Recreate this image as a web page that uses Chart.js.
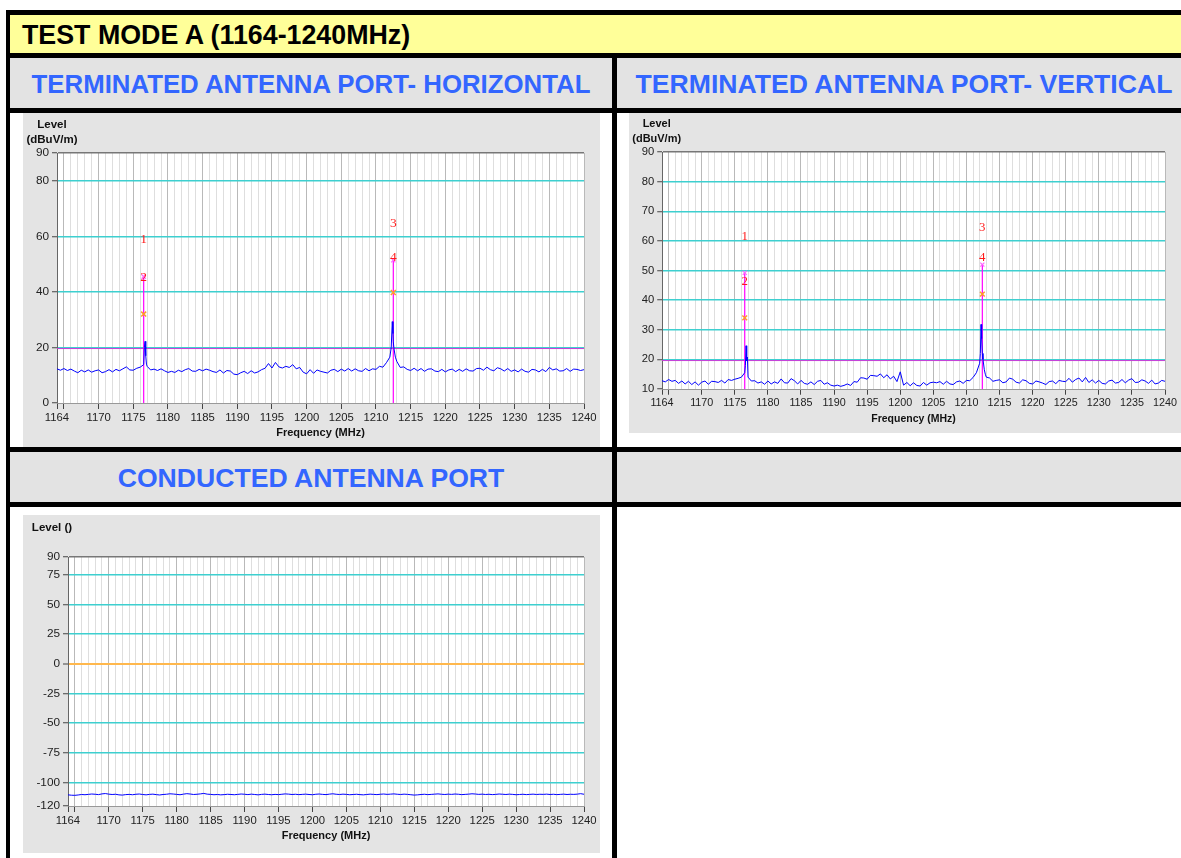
<!DOCTYPE html>
<html><head><meta charset="utf-8">
<script src="https://cdn.jsdelivr.net/npm/chart.js@4.4.0/dist/chart.umd.min.js"></script>
<style>
html,body{margin:0;padding:0;background:#fff;overflow:hidden;}
#page{position:relative;width:1181px;height:858px;overflow:hidden;font-family:Arial,"Liberation Sans",sans-serif;}
.blk{position:absolute;background:#000;}
.cell{position:absolute;display:flex;align-items:center;box-sizing:border-box;}
.yellow{background:#ffff99;color:#000;font-weight:bold;font-size:26.8px;padding-left:12px;padding-top:3px;}
.grey{background:#e3e3e3;color:#3366ff;font-weight:bold;font-size:26px;justify-content:center;padding-top:2px;}
canvas{position:absolute;}
</style>
</head><body>
<div id="page">
  <div class="cell yellow" style="left:10px;top:15px;width:1185px;height:38px;">TEST MODE A (1164-1240MHz)</div>
  <div class="cell grey" style="left:10px;top:58px;width:602px;height:50px;font-size:25.8px;">TERMINATED ANTENNA PORT- HORIZONTAL</div>
  <div class="cell grey" style="left:617px;top:58px;width:574px;height:50px;font-size:26.6px;">TERMINATED ANTENNA PORT- VERTICAL</div>
  <div class="cell grey" style="left:10px;top:452px;width:602px;height:50px;font-size:26.6px;">CONDUCTED ANTENNA PORT</div>
  <div class="cell grey" style="left:617px;top:452px;width:574px;height:50px;"></div>

  <div class="blk" style="left:6px;top:10px;width:1190px;height:5px;"></div>
  <div class="blk" style="left:6px;top:53px;width:1190px;height:5px;"></div>
  <div class="blk" style="left:6px;top:108px;width:1190px;height:5px;"></div>
  <div class="blk" style="left:6px;top:447px;width:1190px;height:5px;"></div>
  <div class="blk" style="left:6px;top:502px;width:1190px;height:5px;"></div>
  <div class="blk" style="left:6px;top:10px;width:4px;height:860px;"></div>
  <div class="blk" style="left:612px;top:53px;width:5px;height:810px;"></div>

  <canvas id="cH" width="577" height="334" style="left:23px;top:113px;"></canvas>
  <canvas id="cV" width="552" height="320" style="left:629px;top:113px;"></canvas>
  <canvas id="cC" width="577" height="338" style="left:23px;top:515px;"></canvas>
</div>
<script>
// ---------- data ----------
const FREQ_START = 1164, FREQ_END = 1240, FREQ_STEP = 0.5;
const xTickLabels = [1164,1170,1175,1180,1185,1190,1195,1200,1205,1210,1215,1220,1225,1230,1235,1240];
const xTickMarks  = [1164,1165,1170,1175,1180,1185,1190,1195,1200,1205,1210,1215,1220,1225,1230,1235,1240];
const xAxisTitle = 'Frequency (MHz)';

// Horizontal (terminated antenna port), one value every 0.5 MHz from 1164
const hTrace = [
 12.3,11.8, 12.4,11.7, 12.2,11.5, 10.9,11.8, 11.2,11.9,
 11.1,11.6, 11.9,10.9, 11.3,12.0, 11.2,12.1, 11.6,12.3,
 13.0,11.9, 11.8,12.5, 12.9,13.8, 13.2,11.9, 12.2,11.7,
 12.3,11.6, 11.0,11.4, 11.0,11.8, 11.3,12.0, 12.4,11.5,
 11.4,12.1, 11.6,12.2, 11.8,11.3, 11.0,11.9, 10.8,11.7,
 11.5,10.4, 10.2,10.9, 11.4,10.6, 11.6,10.8, 11.2,12.0,
 12.5,14.2, 12.6,14.6, 13.0,12.6, 13.2,12.8, 13.8,12.3,
 12.8,11.1, 10.5,12.0, 10.7,11.9, 11.4,11.1, 10.8,11.8,
 12.1,11.3, 12.2,11.5, 12.4,11.5, 12.3,11.6, 11.4,12.4,
 11.6,12.3, 12.1,13.2, 12.9,14.5, 16.5,22.0, 15.0,12.8,
 13.0,12.1, 11.7,12.5, 11.6,12.4, 11.4,12.2, 12.3,11.5,
 11.3,12.1, 11.2,11.9, 12.2,11.3, 12.1,11.4, 12.3,11.6,
 11.5,12.4, 12.5,11.8, 12.9,12.0, 11.6,12.7, 12.3,11.5,
 12.4,11.4, 11.9,11.2, 12.2,11.4, 11.1,12.1, 11.9,11.2,
 12.1,11.3, 12.8,11.9, 12.3,11.5, 11.6,12.4, 11.4,12.2,
 12.1,11.7, 12.0
];
const hPeakFreqs = [1176.6,1176.7,1176.8,1176.9, 1212.2,1212.35,1212.45,1212.6,1212.8];
const hPeakVals  = [20.0, 22.2, 17.0, 14.0, 20.0, 29.3, 25.0, 19.5, 16.5];
const hYTicks = [0,20,40,60,80,90];
const hLimit = 19.6;
const hMarkerFreqs  = [1176.5,1176.5,1212.5,1212.5];
const hMarkerNames  = ['1','2','3','4'];
const hMarkerLevels = [59.0,45.3,64.7,52.5];
const hCrossFreqs   = [1176.5,1212.5];
const hOrangeCross  = [32.0,39.8];
const hPinkCross    = [45.5,51.4];

// Vertical (terminated antenna port), one value every 0.5 MHz from 1164
const vTrace = [
 12.8,12.4, 13.2,12.6, 12.9,11.9, 12.7,11.7, 12.6,11.5,
 12.4,11.3, 12.3,12.7, 11.6,12.6, 12.5,12.2, 12.9,12.0,
 13.2,12.9, 13.3,13.6, 14.0,15.5, 14.0,12.7, 12.8,12.0,
 12.4,11.6, 12.7,11.7, 12.4,11.9, 13.4,12.1, 12.0,13.5,
 12.8,11.7, 12.9,11.9, 11.6,12.4, 11.5,12.6, 12.9,11.6,
 12.1,11.3, 11.0,11.3, 10.9,11.2, 11.7,11.2, 12.5,12.3,
 13.8,13.7, 13.3,14.6, 14.5,14.3, 15.1,13.8, 14.8,13.4,
 14.3,12.5, 15.8,11.3, 12.2,11.1, 12.1,11.2, 11.0,12.2,
 11.3,12.1, 12.3,12.1, 12.5,11.6, 12.6,11.7, 11.5,12.4,
 12.7,11.9, 12.9,12.8, 13.9,15.5, 18.7,20.0, 14.0,13.7,
 12.6,12.9, 13.1,12.1, 12.4,13.7, 13.3,12.3, 12.0,13.1,
 12.8,11.9, 11.7,12.7, 12.4,12.0, 11.5,12.5, 12.7,11.8,
 12.9,12.6, 12.5,13.6, 12.3,13.2, 13.7,12.4, 13.9,12.2,
 13.1,12.0, 12.9,11.9, 11.7,12.7, 13.0,12.0, 12.2,13.2,
 12.1,13.0, 13.5,12.2, 12.3,13.1, 12.7,11.9, 13.0,11.7,
 12.0,12.9, 12.6
];
const vPeakFreqs = [1176.6,1176.7,1176.8,1176.9, 1212.1,1212.2,1212.3,1212.4,1212.7,1212.85];
const vPeakVals  = [18.0, 24.6, 19.5, 20.8, 22.0, 31.8, 27.0, 22.0, 16.5, 15.0];
const vYTicks = [10,20,30,40,50,60,70,80,90];
const vLimit = 19.6;
const vMarkerFreqs  = [1176.5,1176.5,1212.4,1212.4];
const vMarkerNames  = ['1','2','3','4'];
const vMarkerLevels = [61.3,46.4,64.6,54.2];
const vCrossFreqs   = [1176.5,1212.4];
const vOrangeCross  = [34.0,42.0];
const vPinkCross    = [49.2,52.0];

// Conducted antenna port, one value every 0.5 MHz from 1164
const cTrace = [
 -110.6,-110.9,-111.0,-110.7,-110.3,-110.5,-110.2,-109.9,-110.1,-110.4,
 -109.8,-109.5,-110.0,-110.3,-110.1,-110.6,-110.8,-110.4,-110.2,-110.5,
 -110.1,-109.9,-110.3,-110.6,-110.2,-110.0,-110.4,-110.7,-110.3,-110.1,
 -109.7,-109.9,-110.2,-110.5,-110.0,-109.6,-109.9,-110.3,-110.1,-109.8,
 -109.4,-110.0,-110.2,-110.5,-110.3,-110.6,-110.4,-110.1,-110.3,-110.5,
 -110.2,-109.9,-110.1,-110.4,-110.0,-110.3,-110.6,-110.2,-110.0,-110.3,
 -110.5,-110.2,-110.4,-110.1,-109.8,-110.0,-110.3,-110.1,-110.4,-110.2,
 -110.0,-110.3,-110.5,-110.1,-109.9,-110.2,-110.4,-110.0,-109.7,-110.1,
 -110.3,-110.0,-110.2,-110.5,-110.3,-110.1,-110.4,-110.6,-110.3,-110.0,
 -110.2,-110.4,-110.1,-109.9,-110.2,-110.0,-109.8,-110.1,-110.3,-110.0,
 -110.2,-110.5,-110.8,-110.6,-110.3,-110.1,-110.4,-110.2,-110.0,-109.8,
 -110.1,-110.3,-110.0,-110.2,-109.9,-110.1,-110.4,-110.2,-110.0,-109.7,
 -109.9,-110.2,-110.0,-110.3,-110.1,-110.4,-110.2,-109.9,-110.1,-110.3,
 -110.0,-110.2,-110.5,-110.3,-110.1,-110.4,-110.2,-110.0,-110.3,-110.1,
 -110.2,-110.0,-110.3,-110.1,-110.4,-110.2,-110.0,-110.3,-110.1,-110.2,
 -110.0,-109.6,-110.1
];
const cYTicks = [-120,-100,-75,-50,-25,0,25,50,75,90];

// ---------- helpers ----------
function buildTrace(base, pf, pv){
  const pts = base.map((v,i)=>({x: FREQ_START + i*FREQ_STEP, y: v}));
  (pf||[]).forEach((f,i)=>pts.push({x:f, y:pv[i]}));
  pts.sort((a,b)=>a.x-b.x);
  return pts;
}
const xGrid = [];
for (let f = FREQ_START; f <= FREQ_END; f++) xGrid.push(f);

const decor = {
  id:'decor',
  beforeDraw(chart, args, o){
    const {ctx, chartArea:a} = chart;
    ctx.save();
    ctx.fillStyle = '#e4e4e4'; ctx.fillRect(0,0,chart.width,chart.height);
    ctx.fillStyle = '#ffffff'; ctx.fillRect(a.left,a.top,a.right-a.left,a.bottom-a.top);
    ctx.restore();
  },
  afterDatasetsDraw(chart, args, o){
    if(!o.markers) return;
    const {ctx} = chart, xs = chart.scales.x, ys = chart.scales.y;
    ctx.save();
    ctx.font = o.markerFont; ctx.fillStyle = '#ff1a1a';
    ctx.textAlign = 'center'; ctx.textBaseline = 'middle';
    o.markers.names.forEach((n,i)=>{
      ctx.fillText(n, xs.getPixelForValue(o.markers.freqs[i]), ys.getPixelForValue(o.markers.levels[i]));
    });
    ctx.restore();
  },
  afterDraw(chart, args, o){
    const {ctx} = chart;
    ctx.save();
    ctx.font = o.titleFont; ctx.fillStyle = '#111';
    ctx.textAlign = 'center'; ctx.textBaseline = 'middle';
    o.titleLines.forEach((t,i)=> ctx.fillText(t, o.titleX, o.titleY[i]));
    ctx.restore();
  }
};

function makeChart(id, p){
  const s = p.scale;
  const fam = 'Arial, "Liberation Sans", sans-serif';
  const datasets = [
    {data: p.trace, borderColor:'#0000ff', borderWidth:1, pointRadius:0, tension:0}
  ];
  if (p.cross) {
    datasets.push({data:p.cross.freqs.map((f,i)=>({x:f,y:p.cross.orange[i]})), showLine:false, pointStyle:'crossRot', pointRadius:3.5*s, borderColor:'#ff9a2a', borderWidth:1.5});
    datasets.push({data:p.cross.freqs.map((f,i)=>({x:f,y:p.cross.pink[i]})), showLine:false, pointStyle:'crossRot', pointRadius:3*s, borderColor:'#ff66ff', borderWidth:1.2});
    p.cross.freqs.forEach((f,i)=>{
      datasets.push({data:[{x:f,y:p.yMin},{x:f,y:p.cross.pink[i]}], borderColor:'#ff00ff', borderWidth:1.2, pointRadius:0});
    });
  }
  if (p.limit !== undefined) {
    datasets.push({data:[{x:FREQ_START,y:p.limit},{x:FREQ_END,y:p.limit}], borderColor:'#c83cd8', borderWidth:1, pointRadius:0});
  }
  return new Chart(document.getElementById(id), {
    type:'line',
    data:{datasets},
    plugins:[decor],
    options:{
      responsive:false, animation:false, devicePixelRatio:1, events:[],
      layout:{padding:{left:0, top:p.padTop, right:p.padRight, bottom:0}},
      plugins:{
        legend:{display:false}, tooltip:{enabled:false},
        decor:{
          titleLines:p.titleLines, titleX:29*s, titleY:p.titleY,
          titleFont:'bold '+(11.5*s)+'px '+fam,
          markerFont:(13.5*s)+'px "Liberation Serif", serif',
          markers:p.markers
        }
      },
      scales:{
        x:{
          type:'linear', min:FREQ_START, max:FREQ_END,
          afterBuildTicks: sc => { sc.ticks = xGrid.map(v=>({value:v})); },
          afterFit: sc => { sc.height = p.xH; },
          ticks:{autoSkip:false, maxRotation:0, minRotation:0, padding:2*s, color:'#222',
                 font:{family:fam, size:11.3*s},
                 callback: v => xTickLabels.includes(v) ? String(v) : ''},
          grid:{
            color: c => (c.tick && c.tick.value % 5 === 0) ? '#b9b9b9' : '#dedede',
            lineWidth:1, tickLength:6*s, tickWidth:1,
            tickColor: c => (c.tick && xTickMarks.includes(c.tick.value)) ? '#444' : 'rgba(0,0,0,0)'
          },
          border:{color:'#999', width:1},
          title:{display:true, text:xAxisTitle, color:'#111', font:{family:fam, size:11*s, weight:'bold'}, padding:{top:0,bottom:p.titlePadB}}
        },
        y:{
          type:'linear', min:p.yMin, max:p.yMax,
          afterBuildTicks: sc => { sc.ticks = p.yTicks.map(v=>({value:v})); },
          afterFit: sc => { sc.width = p.yW; },
          ticks:{padding:3*s, color:'#222', font:{family:fam, size:11.8*s}},
          grid:{
            color: c => {
              const v = c.tick ? c.tick.value : null;
              if (v === p.yMax) return '#777';
              if (v === p.yMin) return 'rgba(0,0,0,0)';
              if (v === 0 && p.zeroOrange) return '#ffb84d';
              return '#3dcfcf';
            },
            lineWidth: c => (c.tick && c.tick.value === 0 && p.zeroOrange) ? 2 : 1.5,
            tickLength:5*s, tickWidth:1, tickColor:'#444'
          },
          border:{color:'#666', width:1}
        }
      }
    }
  });
}

makeChart('cH', {
  scale:1, trace: buildTrace(hTrace, hPeakFreqs, hPeakVals), limit:hLimit,
  yMin:0, yMax:90, yTicks:hYTicks, yW:34, xH:44, padTop:40, padRight:16, titlePadB:7,
  titleLines:['Level','(dBuV/m)'], titleY:[12,27],
  markers:{names:hMarkerNames, freqs:hMarkerFreqs, levels:hMarkerLevels},
  cross:{freqs:hCrossFreqs, orange:hOrangeCross, pink:hPinkCross}
});
makeChart('cV', {
  scale:0.954, trace: buildTrace(vTrace, vPeakFreqs, vPeakVals), limit:vLimit,
  yMin:10, yMax:90, yTicks:vYTicks, yW:33, xH:44, padTop:39, padRight:16, titlePadB:8,
  titleLines:['Level','(dBuV/m)'], titleY:[11,26],
  markers:{names:vMarkerNames, freqs:vMarkerFreqs, levels:vMarkerLevels},
  cross:{freqs:vCrossFreqs, orange:vOrangeCross, pink:vPinkCross}
});
makeChart('cC', {
  scale:1, trace: buildTrace(cTrace), zeroOrange:true,
  yMin:-120, yMax:90, yTicks:cYTicks, yW:45, xH:47, padTop:42, padRight:16, titlePadB:10,
  titleLines:['Level ()'], titleY:[13]
});
</script>
</body></html>
